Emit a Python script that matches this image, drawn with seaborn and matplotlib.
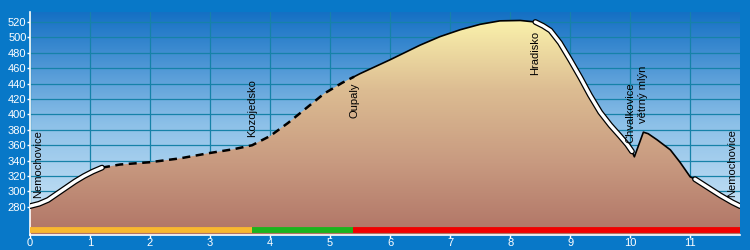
import numpy as np
import matplotlib
matplotlib.use("Agg")
import matplotlib.pyplot as plt
import seaborn as sns
from matplotlib.colors import LinearSegmentedColormap

# ---- data ----
km = [0, 0.15, 0.3, 0.45, 0.6, 0.75, 0.9, 1.05, 1.2, 1.5, 2.0, 2.5, 3.0, 3.4,
      3.7, 4.0, 4.3, 4.6, 4.9, 5.2, 5.4, 5.5, 6.0, 6.5, 6.83, 7.17, 7.5, 7.83,
      8.17, 8.42, 8.55, 8.67, 8.83, 9.0, 9.17, 9.33, 9.5, 9.67, 9.83, 9.95,
      10.03, 10.07, 10.15, 10.22, 10.3, 10.45, 10.67, 10.83, 11.0, 11.08,
      11.3, 11.5, 11.7, 11.83]
elev = [281, 284, 289, 297, 305, 313, 320, 326, 331, 335, 338, 343, 350, 355,
        360, 372, 389, 408, 427, 441, 449, 453, 471, 490, 501, 510, 517, 521.5,
        522, 520, 515, 509, 493, 471, 448, 425, 403, 386, 372, 361,
        352, 345, 362, 377, 375, 367, 354, 338, 319, 316,
        305, 295, 286, 281]

seg_start = [0, 1.2, 5.4, 8.42, 10.03, 11.08]
seg_end = [1.2, 5.4, 8.42, 10.03, 11.08, 11.83]
seg_style = ["white", "dash", "solid", "white", "solid", "white"]

route_start = [0, 3.7, 5.38]
route_end = [3.7, 5.38, 11.83]
route_color = ["#f8b830", "#1cb41c", "#f00000"]

place_names = ["Nemochovice", "Kozojedsko", "Oupaly", "Hradisko",
               "Chvalkovice", "větrný mlýn", "Nemochovice"]
place_km = [0.13, 3.70, 5.40, 8.42, 10.00, 10.22, 11.70]
place_label_y = [292, 371, 395, 451, 363, 389, 293]

x_ticks = list(range(0, 12))
y_ticks = list(range(280, 521, 20))

# ---- style ----
sns.set_theme(style="white")
plt.rcParams["font.family"] = ["Liberation Sans", "DejaVu Sans"]

BG = "#0878c8"
fig = plt.figure(figsize=(7.5, 2.5), dpi=100, facecolor=BG)
ax = fig.add_axes([30 / 750, 15 / 250, 710 / 750, 223 / 250])
ax.set_facecolor(BG)

xmin, xmax = 0, 11.83
ymin, ymax = 243.5, 533
ax.set_xlim(xmin, xmax)
ax.set_ylim(ymin, ymax)

# sky gradient
sky = LinearSegmentedColormap.from_list("sky", ["#d4eaf8", "#8cc0e8", "#1470c4"])
grad = np.linspace(0, 1, 256).reshape(-1, 1)
ax.imshow(grad, cmap=sky, aspect="auto", extent=[xmin, xmax, ymin, ymax],
          origin="lower", zorder=0)

# grid
for yt in y_ticks:
    ax.axhline(yt, color="#1682a8", lw=0.9, zorder=1)
for xt in x_ticks:
    ax.axvline(xt, color="#1682a8", lw=0.9, zorder=1)

# ground fill gradient
ground = LinearSegmentedColormap.from_list(
    "ground", ["#b07466", "#c89a80", "#dcbc92", "#fbf3ac"])
poly = ax.fill_between(km, elev, ymin, facecolor="none", edgecolor="none", zorder=2)
img = ax.imshow(grad, cmap=ground, aspect="auto",
                extent=[xmin, xmax, ymin, 525], origin="lower", zorder=2)
img.set_clip_path(poly.get_paths()[0], transform=ax.transData)
ax.set_ylim(ymin, ymax)

km_a = np.array(km)
el_a = np.array(elev)
for s, e, st in zip(seg_start, seg_end, seg_style):
    m = (km_a >= s - 1e-9) & (km_a <= e + 1e-9)
    xs, ys = km_a[m], el_a[m]
    if st == "white":
        ax.plot(xs, ys, color="black", lw=4.2, solid_capstyle="round",
                solid_joinstyle="round", zorder=4)
        ax.plot(xs, ys, color="white", lw=2.4, solid_capstyle="round",
                solid_joinstyle="round", zorder=5)
    elif st == "dash":
        ax.plot(xs, ys, color="black", lw=1.8, dashes=(3.2, 2.2), zorder=4)
    else:
        ax.plot(xs, ys, color="black", lw=1.2, solid_joinstyle="round", zorder=4)

# route stripe
for s, e, c in zip(route_start, route_end, route_color):
    ax.plot([s, e], [249.5, 249.5], color=c, lw=4.2, solid_capstyle="butt", zorder=6)

# place labels
for name, x, y in zip(place_names, place_km, place_label_y):
    ax.text(x, y, name, rotation=90, ha="center", va="bottom", fontsize=8,
            color="black", zorder=7)

# axes
for sp in ["top", "right"]:
    ax.spines[sp].set_visible(False)
for sp in ["left", "bottom"]:
    ax.spines[sp].set_color("white")
    ax.spines[sp].set_linewidth(1.2)
ax.set_xticks(x_ticks)
ax.set_yticks(y_ticks)
ax.set_xticklabels([str(v) for v in x_ticks])
ax.set_yticklabels([str(v) for v in y_ticks])
ax.tick_params(axis="both", colors="white", labelcolor="white", labelsize=8,
               length=2, width=1, pad=0.5, direction="out", left=True, bottom=True)
ax.grid(False)

fig.savefig("out.png", dpi=100, facecolor=BG)
